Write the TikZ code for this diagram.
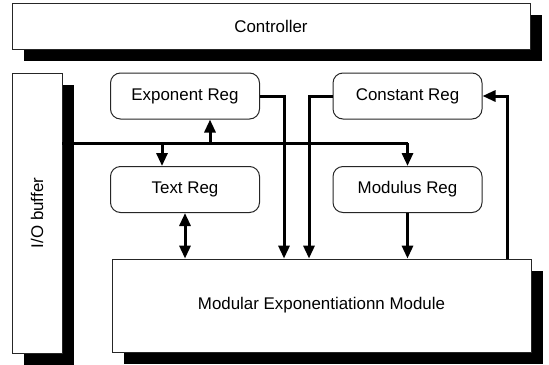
\documentclass[tikz,border=0pt]{standalone}
\usepackage{fontspec}
\setmainfont{Liberation Sans}
\usetikzlibrary{arrows.meta,shadows,positioning}

\begin{document}
\begin{tikzpicture}[x=0.5pt,y=-0.5pt,
            every node/.append style = {font=\fontsize{8.45}{10}\selectfont, inner sep=0pt},
            blk/.style = {draw=black!85, line width=0.4pt, fill=white,
                drop shadow={shadow xshift=6pt, shadow yshift=-6pt, opacity=1, fill=black}},
            reg/.style = {draw=black!85, line width=0.5pt, rounded corners=5pt, fill=white,
                minimum width=74.5pt, minimum height=23pt},
            arr/.style = {line width=1.5pt, -{Triangle[width=5.5pt,length=6.5pt]}},
            darr/.style = {line width=1.5pt, {Triangle[width=5.5pt,length=6.5pt]}-{Triangle[width=5.5pt,length=6.5pt]}}]
        \useasboundingbox (0,0) rectangle (549,364);
        \node[blk, minimum width=259pt, minimum height=23pt] (nctrl) at (271,26) {Controller};
        \node[blk, minimum width=25pt, minimum height=140pt] (nio) at (37,213) {};
        \node[rotate=90] at (nio.center) {I/O buffer};
        \node[blk, minimum width=209.5pt, minimum height=46.5pt] (nmem) at (321.5,305.5) {Modular Exponentiationn Module};
        \node[reg] (nexp) at (185,96) {Exponent Reg};
        \node[reg] (ntxt) at (185,189.5) {Text Reg};
        \node[reg] (ncon) at (407.5,96) {Constant Reg};
        \node[reg] (nmod) at (407.5,189.5) {Modulus Reg};
        \coordinate (nbus) at (0,143);
        \draw[line width=1.5pt] (nio.east |- nbus) -- (nbus -| nmod.north);
        \draw[arr] (nbus -| nmod.north) -- (nmod.north);
        \draw[arr] ([xshift=-11.5pt]ntxt.north |- nbus) -- ([xshift=-11.5pt]ntxt.north);
        \draw[arr] ([xshift=12.5pt]nexp.south |- nbus) -- ([xshift=12.5pt]nexp.south);
        \draw[arr] (nexp.east) -| (nmem.north -| 284,0);
        \draw[arr] (ncon.west) -| (nmem.north -| 309,0);
        \draw[arr] (nmod.south) -- (nmem.north -| nmod.south);
        \draw[arr] (nmem.north -| 507,0) |- (ncon.east);
        \draw[darr] (ntxt.south) -- (nmem.north -| ntxt.south);
\end{tikzpicture}
\end{document}
